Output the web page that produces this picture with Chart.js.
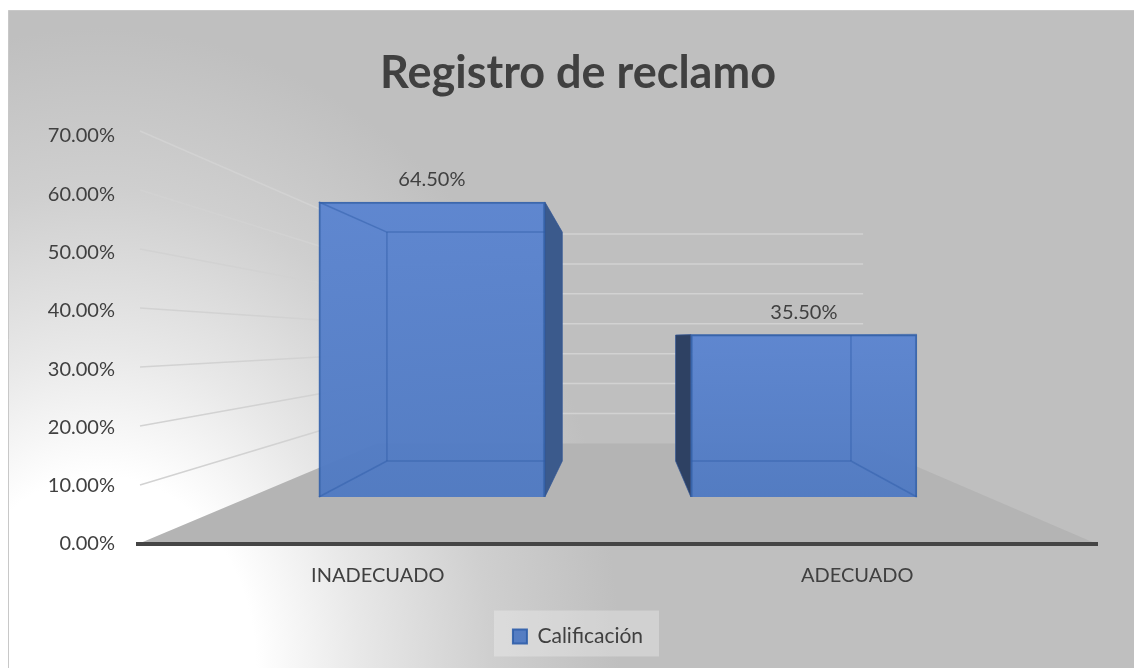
<!DOCTYPE html>
<html><head><meta charset="utf-8">
<style>html,body{margin:0;padding:0;background:#fff}canvas{display:block}</style>
<script src="https://cdn.jsdelivr.net/npm/chart.js@4"></script>
</head><body>
<canvas id="c" width="1134" height="668"></canvas>
<script>
const categories = ['INADECUADO', 'ADECUADO'];
const values = [64.5, 35.5];
const seriesName = 'Calificación';
const chartTitle = 'Registro de reclamo';
const yMin = 0, yMax = 70, yStep = 10;
const FONT = 'Lato, Carlito, sans-serif';
const TEXT = '#404040';

// perspective of the 3D scene
const VP = {x: 622.6, y: 340};
const BAR_VP_Y = 336.5;
const BAR_DEPTH = 0.776, WALL_DEPTH = 0.507;
const proj = (x, y, s) => [VP.x + s * (x - VP.x), VP.y + s * (y - VP.y)];
const projBar = (x, y) => [VP.x + BAR_DEPTH * (x - VP.x), BAR_VP_Y + BAR_DEPTH * (y - BAR_VP_Y)];
const wallY = (sc, v) => { const b = sc.getPixelForValue(0); return b + (sc.getPixelForValue(v) - b) * 1.0123; };

function poly(ctx, pts, fill, stroke, lw) {
  ctx.beginPath();
  pts.forEach((p, i) => i ? ctx.lineTo(p[0], p[1]) : ctx.moveTo(p[0], p[1]));
  ctx.closePath();
  if (fill) { ctx.fillStyle = fill; ctx.fill(); }
  if (stroke) { ctx.strokeStyle = stroke; ctx.lineWidth = lw || 1; ctx.stroke(); }
}
function seg(ctx, a, b) { ctx.beginPath(); ctx.moveTo(a[0], a[1]); ctx.lineTo(b[0], b[1]); ctx.stroke(); }

const scene = {
  id: 'scene',
  afterLayout(chart) {
    // title and legend are centred on the plot's 3D floor, not on the canvas
    chart.titleBlock.left = 59;
    chart.legend.left = 59;
  },
  beforeDraw(chart) {
    const ctx = chart.ctx;
    ctx.save();
    ctx.fillStyle = '#fff'; ctx.fillRect(0, 0, chart.width, chart.height);
    ctx.beginPath(); ctx.rect(8.5, 10.5, chart.width, chart.height); ctx.clip();
    ctx.fillStyle = '#bfbfbf'; ctx.fillRect(0, 0, chart.width, chart.height);
    ctx.translate(100, 668); ctx.scale(520, 640);
    const g = ctx.createRadialGradient(0, 0, 0, 0, 0, 1);
    g.addColorStop(0, '#ffffff'); g.addColorStop(0.3, '#ffffff');
    g.addColorStop(0.5, '#e8e8e8'); g.addColorStop(0.75, '#cfcfcf'); g.addColorStop(1, '#bfbfbf');
    ctx.fillStyle = g; ctx.fillRect(-2, -2, 4, 4);
    ctx.restore();
    ctx.save();
    ctx.strokeStyle = '#c8c8c8'; ctx.lineWidth = 1;
    ctx.beginPath(); ctx.moveTo(8.5, chart.height); ctx.lineTo(8.5, 10.5); ctx.lineTo(chart.width, 10.5); ctx.stroke();
    // legend panel
    const l = chart.legend;
    ctx.fillStyle = 'rgba(255,255,255,0.28)';
    ctx.fillRect(494, l.top + l.height / 2 - 20, 165, 46);
    ctx.restore();
  },
  beforeDatasetsDraw(chart) {
    const ctx = chart.ctx, y = chart.scales.y, a = chart.chartArea;
    const b0 = y.getPixelForValue(0);
    ctx.save();
    // floor
    poly(ctx, [[a.left, b0], proj(a.left, b0, WALL_DEPTH), proj(a.right, b0, WALL_DEPTH), [a.right, b0]], '#b4b4b4');
    // wall grid
    ctx.strokeStyle = '#d2d2d2'; ctx.lineWidth = 1.5;
    for (let v = yMin + yStep; v <= yMax; v += yStep) {
      const py = wallY(y, v);
      const p = proj(a.left, py, WALL_DEPTH), q = proj(a.right, py, WALL_DEPTH);
      seg(ctx, [a.left + 2, py], p);
      seg(ctx, p, q);
    }
    // side faces behind the translucent fronts
    chart.getDatasetMeta(0).data.forEach(bar => {
      const L = bar.x - bar.width / 2, R = bar.x + bar.width / 2, T = bar.y, B = bar.base;
      const right = bar.x < VP.x, X = right ? R : L;
      const bt = projBar(X, T), bb = projBar(X, B);
      poly(ctx, [[X, T], bt, bb, [X, B]], right ? '#3b5a8c' : '#2e4163', 'rgba(47,84,150,0.7)', 1);
    });
    ctx.restore();
  },
  afterDatasetsDraw(chart) {
    const ctx = chart.ctx;
    ctx.save();
    chart.getDatasetMeta(0).data.forEach((bar, i) => {
      const L = bar.x - bar.width / 2, R = bar.x + bar.width / 2, T = bar.y, B = bar.base;
      const right = bar.x < VP.x;
      const X = right ? L : R, Xf = right ? R : L;
      const it = projBar(X, T), ib = projBar(X, B);
      ctx.strokeStyle = 'rgba(47,94,170,0.5)'; ctx.lineWidth = 1.5;
      seg(ctx, [X, T], it); seg(ctx, [X, B], ib); seg(ctx, it, ib);
      seg(ctx, it, [Xf, it[1]]); seg(ctx, ib, [Xf, ib[1]]);
      // value label
      ctx.fillStyle = TEXT; ctx.font = '20px ' + FONT;
      ctx.textAlign = 'center'; ctx.textBaseline = 'middle';
      ctx.fillText(values[i].toFixed(2) + '%', bar.x, T - 22);
    });
    ctx.restore();
  }
};

new Chart(document.getElementById('c'), {
  type: 'bar',
  data: {
    labels: categories,
    datasets: [{
      label: seriesName,
      data: values.map((v, i) => ({x: i, y: v})),
      xAxisID: 'x1', yAxisID: 'y1',
      barThickness: 226,
      borderWidth: 2,
      borderColor: 'rgba(47,94,170,0.9)',
      backgroundColor: c => {
        if (c.type !== 'data' || !c.chart.chartArea) return '#4f78c4';
        const s = c.chart.scales.y1;
        const g = c.chart.ctx.createLinearGradient(0, s.getPixelForValue(0), 0, s.getPixelForValue(c.raw.y));
        g.addColorStop(0, 'rgba(80,122,194,0.97)');
        g.addColorStop(1, 'rgba(92,133,208,0.97)');
        return g;
      }
    }]
  },
  options: {
    responsive: false,
    animation: false,
    layout: {padding: {left: 22, right: 37, top: 0, bottom: 11}},
    plugins: {
      tooltip: {enabled: false},
      title: {
        display: true, text: chartTitle, color: TEXT,
        font: {family: FONT, size: 45, weight: 'bold'},
        padding: {top: 46, bottom: 36}
      },
      legend: {
        position: 'bottom',
        labels: {
          color: TEXT, font: {family: FONT, size: 21},
          boxWidth: 14, boxHeight: 14, padding: 22
        }
      }
    },
    scales: {
      x: {
        type: 'category', offset: true,
        grid: {display: false, drawTicks: false},
        border: {display: true, color: '#454545', width: 4, z: 1},
        ticks: {color: TEXT, font: {family: FONT, size: 20}, padding: 20, maxRotation: 0},
        afterFit: s => { s.height = 60; }
      },
      y: {
        type: 'linear', min: yMin, max: yMax, position: 'left',
        grid: {display: false, drawTicks: false},
        border: {display: false},
        ticks: {color: TEXT, font: {family: FONT, size: 20}, stepSize: yStep, padding: 23,
          callback: v => v.toFixed(2) + '%'},
        afterFit: s => { s.width = 116; }
      },
      x1: {type: 'linear', display: false, offset: false, min: -0.79, max: 1.788, grid: {display: false}},
      y1: {type: 'linear', display: false, position: 'left', min: -10.28, max: 78.92, grid: {display: false}}
    }
  },
  plugins: [scene]
});
</script>
</body></html>
